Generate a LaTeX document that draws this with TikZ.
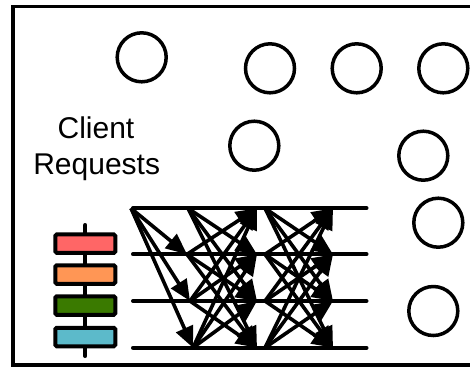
\documentclass[tikz,border=0pt]{standalone}
\usepackage{fontspec}
\setmainfont{Liberation Sans}
\usetikzlibrary{arrows.meta}
\definecolor{boxred}{RGB}{255,102,102}
\definecolor{boxorange}{RGB}{255,150,85}
\definecolor{boxgreen}{RGB}{58,122,0}
\definecolor{boxblue}{RGB}{92,186,202}
\tikzset{
  frame/.style={line width=3.5pt},
  srv/.style={draw, circle, line width=3.5pt, minimum size=49pt, inner sep=0pt},
  timeline/.style={line width=4pt, line cap=round},
  msg/.style={line width=3.6pt, -{Triangle[length=21pt,width=18pt]}},
  stackbar/.style={line width=4pt, line cap=round},
  slot/.style={draw, line width=4pt, rounded corners=1.5pt, minimum width=60pt, minimum height=18.5pt, inner sep=0pt},
  label/.style={font=\fontsize{30}{36}\selectfont, inner sep=0pt, anchor=base}
}
\begin{document}
\begin{tikzpicture}[x=1pt,y=-1pt]
\useasboundingbox (0,0) rectangle (470,368);
\clip (0,0) rectangle (470,368);
\fill[white] (0,0) rectangle (470,368);

% enclosing frame (open on the right)
\draw[frame] (480,6.5) -- (13,6.5) -- (13,365) -- (480,365);

% servers
\node[srv] (s1) at (141.7,57.3) {};
\node[srv] (s2) at (270,68.3) {};
\node[srv] (s3) at (356.7,68.3) {};
\node[srv] (s4) at (443.3,68.3) {};
\node[srv] (s5) at (254.3,145.7) {};
\node[srv] (s6) at (423.3,155.7) {};
\node[srv] (s7) at (438.3,222.7) {};
\node[srv] (s8) at (433.3,311) {};

% caption
\node[label] (client) at (96,138) {Client};
\node[label] (requests) at (96.7,174) {Requests};

% request stack
\coordinate (stacktop) at (85.3,225);
\coordinate (stackbot) at (85.3,356);
\draw[stackbar] (stacktop) -- (stackbot);
\node[slot, fill=boxred] (r1) at (85.3,243.7) {};
\node[slot, fill=boxorange] (r2) at (85.3,274.5) {};
\node[slot, fill=boxgreen] (r3) at (85.3,305.5) {};
\node[slot, fill=boxblue] (r4) at (85.3,337) {};

% replica timelines
\foreach \i/\y in {1/208.3,2/254.3,3/301,4/347.7}{
  \coordinate (ls\i) at (133,\y);
  \coordinate (le\i) at (366.5,\y);
  \draw[timeline] (ls\i) -- (le\i);
}

% message endpoints on each timeline
\coordinate (p0) at (131,208.3);
\coordinate (a1) at (188,208.3);
\coordinate (a2) at (187,254.3);
\coordinate (a3) at (190,301);
\coordinate (a4) at (193,347.7);
\foreach \i/\y in {1/208.3,2/254.3,3/301,4/347.7}{
  \coordinate (b\i) at (257,\y);
  \coordinate (c\i) at (265,\y);
  \coordinate (d\i) at (333,\y);
}

% first round: one to all
\foreach \j in {2,3,4}{
  \draw[msg] (p0) -- (a\j);
}
% second and third rounds: all to all
\foreach \i in {1,2,3,4}{
  \foreach \j in {1,2,3,4}{
    \ifnum\i=\j\else
      \draw[msg] (a\i) -- (b\j);
      \draw[msg] (c\i) -- (d\j);
    \fi
  }
}
\end{tikzpicture}
\end{document}
